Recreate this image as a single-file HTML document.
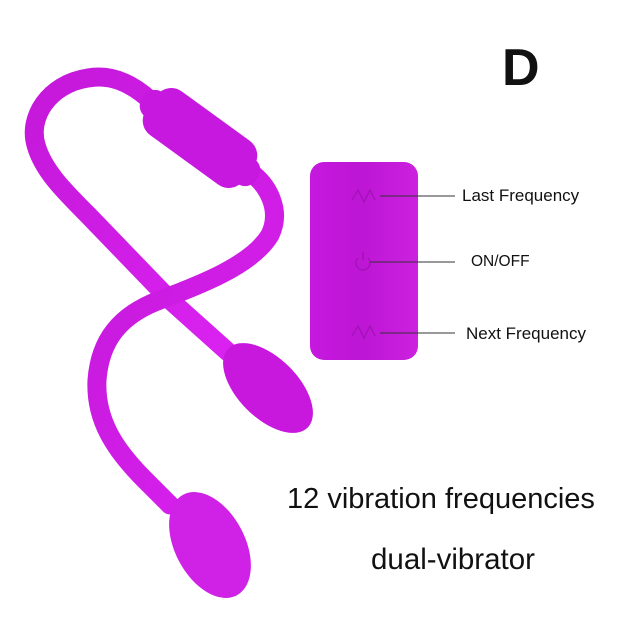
<!DOCTYPE html>
<html><head><style>
body{margin:0;width:620px;height:620px;background:#fff;overflow:hidden;position:relative;font-family:"Liberation Sans",sans-serif}
.t{position:absolute;color:#111;white-space:nowrap}
</style></head><body>
<svg width="620" height="620" style="position:absolute;left:0;top:0">
<defs>
<linearGradient id="g" x1="0" y1="0" x2="1" y2="1"><stop offset="0" stop-color="#c418da"/><stop offset="1" stop-color="#da22f0"/></linearGradient>
<linearGradient id="r" x1="0" y1="0" x2="1" y2="0"><stop offset="0" stop-color="#c618de"/><stop offset="0.5" stop-color="#bd16d4"/><stop offset="1" stop-color="#cc22e0"/></linearGradient>
</defs>
<g fill="none" stroke="url(#g)" stroke-width="19" stroke-linecap="round">
<path d="M150,100 C130,82 110,74 88,78 C48,84 28,118 36,145 C43,170 63,190 88,215 L170,300 L228,352"/>
<path d="M250,172 C268,185 282,210 270,235 C252,265 200,285 160,300 C120,315 100,340 97,380 C95,420 115,450 145,480 L170,505"/>
</g>
<g transform="translate(200,138) rotate(36)">
<rect x="-60" y="-27" width="120" height="54" rx="18" fill="#c618de"/>
<rect x="-70" y="-15" width="140" height="30" rx="13" fill="#c618de"/>
</g>
<ellipse cx="268" cy="388" rx="56" ry="30" transform="rotate(45 268 388)" fill="#c818de"/>
<ellipse cx="210" cy="545" rx="57" ry="35" transform="rotate(62 210 545)" fill="#cf22e6"/>
<rect x="310" y="162" width="108" height="198" rx="14" fill="url(#r)"/>
<g stroke="#9a10b0" stroke-width="1.5" fill="none" opacity="0.7">
<path d="M352,200 l6,-10 l6,12 l6,-12 l5,10"/>
<path d="M358,258 a7,7 0 1 0 10,0 M363,252 v8"/>
<path d="M352,336 l6,-10 l6,12 l6,-12 l5,10"/>
</g>
<g stroke="#333" stroke-width="1">
<line x1="380" y1="196" x2="455" y2="196"/>
<line x1="370" y1="262" x2="455" y2="262"/>
<line x1="380" y1="333" x2="455" y2="333"/>
</g>
</svg>
<div class="t" style="left:502px;top:38px;font-size:52px;font-weight:bold">D</div>
<div class="t" style="left:462px;top:186px;font-size:17px">Last Frequency</div>
<div class="t" style="left:471px;top:253px;font-size:15.5px">ON/OFF</div>
<div class="t" style="left:466px;top:324px;font-size:17px">Next Frequency</div>
<div class="t" style="left:287px;top:483px;font-size:29px">12 vibration frequencies</div>
<div class="t" style="left:371px;top:543px;font-size:29.5px">dual-vibrator</div>
</body></html>
